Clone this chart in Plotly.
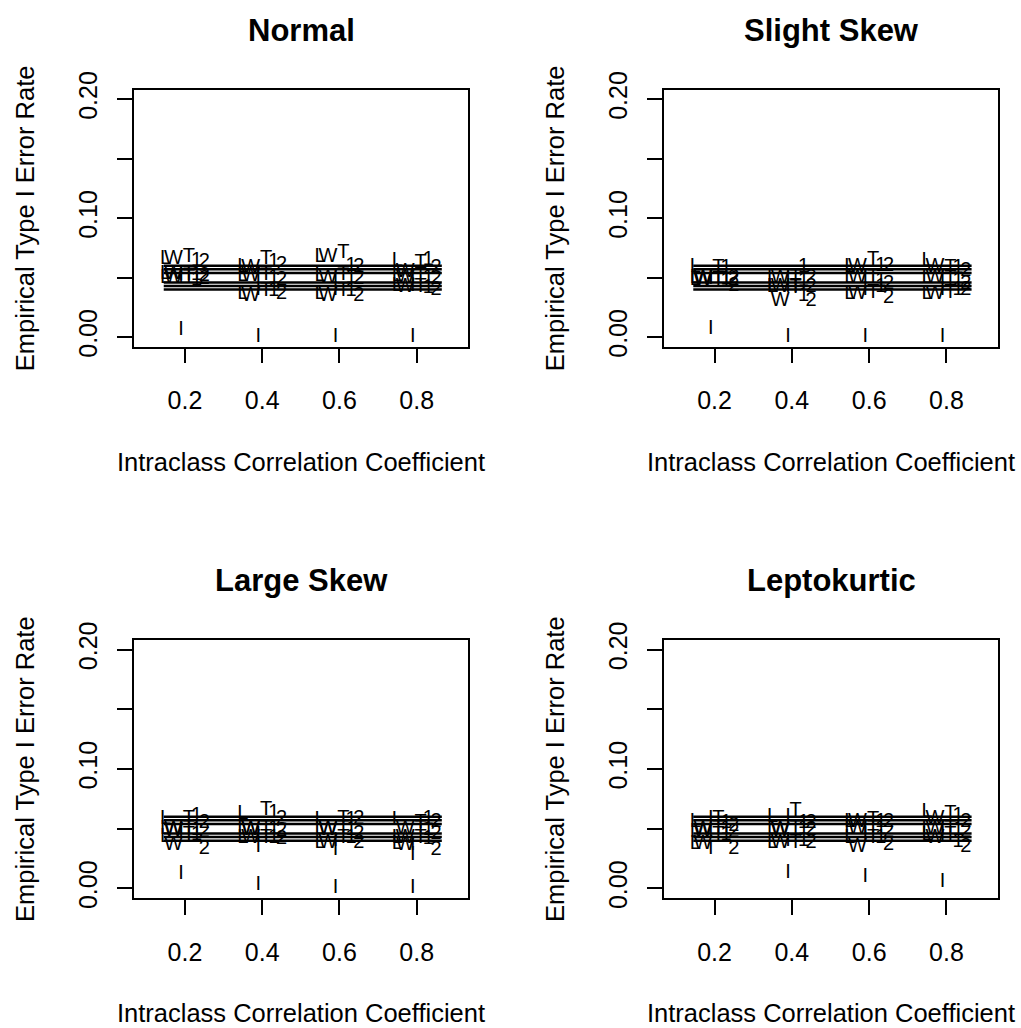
import plotly.graph_objects as go

# ---------------- data ----------------
icc = [0.2, 0.4, 0.6, 0.8]
tests = ["L", "W", "I", "T", "1", "2"]
test_offsets = [-0.05, -0.03, -0.01, 0.01, 0.03, 0.05]
panel_titles = ["Normal", "Slight Skew", "Large Skew", "Leptokurtic"]
ref_lines = [0.040, 0.043, 0.046, 0.054, 0.057, 0.060]
ref_x = [0.145, 0.865]
x_ticks = [0.2, 0.4, 0.6, 0.8]
x_tick_labels = ["0.2", "0.4", "0.6", "0.8"]
y_ticks = [0.0, 0.05, 0.10, 0.15, 0.20]
y_tick_labels = ["0.00", "", "0.10", "", "0.20"]

# empirical type I error rates: one list per ICC level (several conditions each)
normal = {
    "L": [[0.066, 0.053, 0.050], [0.059, 0.051, 0.036], [0.067, 0.051, 0.036], [0.064, 0.051, 0.043]],
    "W": [[0.066, 0.053, 0.050], [0.058, 0.051, 0.035], [0.067, 0.050, 0.035], [0.055, 0.050, 0.042]],
    "I": [[0.006, 0.050, 0.052], [0.000, 0.051, 0.040], [0.000, 0.050, 0.040], [0.000, 0.050, 0.043]],
    "T": [[0.067, 0.052, 0.050], [0.066, 0.052, 0.039], [0.071, 0.052, 0.039], [0.062, 0.051, 0.042]],
    "1": [[0.064, 0.052, 0.048], [0.063, 0.050, 0.039], [0.060, 0.050, 0.039], [0.065, 0.050, 0.041]],
    "2": [[0.063, 0.051, 0.049], [0.061, 0.048, 0.036], [0.059, 0.049, 0.035], [0.058, 0.049, 0.040]],
}
slight_skew = {
    "L": [[0.059, 0.050, 0.048], [0.050, 0.042, 0.042], [0.059, 0.050, 0.036], [0.064, 0.050, 0.036]],
    "W": [[0.050, 0.049, 0.047], [0.050, 0.042, 0.030], [0.059, 0.050, 0.036], [0.059, 0.050, 0.036]],
    "I": [[0.007, 0.050, 0.049], [0.000, 0.050, 0.042], [0.000, 0.050, 0.040], [0.000, 0.049, 0.040]],
    "T": [[0.058, 0.050, 0.048], [0.050, 0.042, 0.041], [0.065, 0.050, 0.037], [0.058, 0.049, 0.037]],
    "1": [[0.058, 0.049, 0.047], [0.059, 0.047, 0.035], [0.060, 0.047, 0.042], [0.058, 0.047, 0.040]],
    "2": [[0.050, 0.048, 0.043], [0.050, 0.042, 0.030], [0.060, 0.045, 0.033], [0.056, 0.045, 0.040]],
}
large_skew = {
    "L": [[0.058, 0.050, 0.043], [0.062, 0.050, 0.042], [0.057, 0.050, 0.038], [0.057, 0.042, 0.037]],
    "W": [[0.050, 0.048, 0.036], [0.050, 0.049, 0.042], [0.050, 0.049, 0.038], [0.050, 0.042, 0.036]],
    "I": [[0.012, 0.050, 0.048], [0.003, 0.045, 0.035], [0.000, 0.040, 0.032], [0.000, 0.036, 0.028]],
    "T": [[0.058, 0.050, 0.045], [0.066, 0.050, 0.042], [0.058, 0.050, 0.042], [0.055, 0.050, 0.042]],
    "1": [[0.061, 0.049, 0.045], [0.063, 0.050, 0.042], [0.057, 0.049, 0.042], [0.058, 0.049, 0.041]],
    "2": [[0.055, 0.047, 0.033], [0.058, 0.048, 0.041], [0.058, 0.046, 0.038], [0.056, 0.046, 0.032]],
}
leptokurtic = {
    "L": [[0.056, 0.047, 0.037], [0.060, 0.050, 0.038], [0.056, 0.050, 0.042], [0.064, 0.050, 0.045]],
    "W": [[0.050, 0.047, 0.037], [0.050, 0.048, 0.038], [0.056, 0.050, 0.035], [0.058, 0.050, 0.042]],
    "I": [[0.058, 0.047, 0.033], [0.013, 0.060, 0.040], [0.010, 0.050, 0.045], [0.005, 0.050, 0.045]],
    "T": [[0.058, 0.050, 0.045], [0.065, 0.050, 0.038], [0.057, 0.050, 0.042], [0.062, 0.050, 0.045]],
    "1": [[0.055, 0.050, 0.045], [0.055, 0.050, 0.040], [0.056, 0.050, 0.042], [0.061, 0.049, 0.039]],
    "2": [[0.052, 0.047, 0.033], [0.055, 0.049, 0.038], [0.056, 0.047, 0.036], [0.056, 0.047, 0.035]],
}
panels = [normal, slight_skew, large_skew, leptokurtic]

# ---------------- layout geometry (pixels) ----------------
W, H = 1021, 1028
col_x = [(134, 467.7), (663.5, 997.5)]
row_y = [(89.7, 346.7), (640.0, 898.0)]
FONT = "Liberation Sans, Arial, Helvetica, sans-serif"

fig = go.Figure()
layout = dict(
    width=W, height=H, autosize=False,
    margin=dict(l=0, r=0, t=0, b=0, pad=0, autoexpand=False),
    paper_bgcolor="white", plot_bgcolor="white", showlegend=False,
    font=dict(family=FONT, color="black", size=25),
)
annotations = []

for p, data in enumerate(panels):
    r, c = divmod(p, 2)
    k = p + 1
    xs = "x" if k == 1 else f"x{k}"
    ys = "y" if k == 1 else f"y{k}"
    xl, xr = col_x[c]
    yt, yb = row_y[r]
    # reference segments
    for yv in ref_lines:
        fig.add_trace(go.Scatter(x=ref_x, y=[yv, yv], mode="lines",
                                 line=dict(color="black", width=2.5),
                                 xaxis=xs, yaxis=ys, hoverinfo="skip"))
    # letters
    for t, off in zip(tests, test_offsets):
        xx, yy = [], []
        for gi, g in enumerate(icc):
            for v in data[t][gi]:
                xx.append(g + off)
                yy.append(v)
        fig.add_trace(go.Scatter(x=xx, y=yy, mode="text", text=[t] * len(xx),
                                 textposition="middle center", cliponaxis=False,
                                 textfont=dict(family=FONT, size=20, color="black"),
                                 xaxis=xs, yaxis=ys, hoverinfo="skip"))
    ax = dict(
        domain=[xl / W, xr / W], range=[0.068, 0.932], anchor=ys,
        tickvals=x_ticks, ticktext=x_tick_labels, ticks="outside", ticklen=15,
        tickwidth=1.5, tickcolor="black", showline=True, mirror=True,
        linecolor="black", linewidth=1.5, showgrid=False, zeroline=False,
        tickfont=dict(family=FONT, size=25, color="black"), ticklabelstandoff=16,
        automargin=False,
    )
    ay = dict(
        domain=[1 - yb / H, 1 - yt / H], range=[-0.008, 0.208], anchor=xs,
        tickvals=y_ticks, ticktext=y_tick_labels, ticks="outside", ticklen=15,
        tickwidth=1.5, tickcolor="black", showline=True, mirror=True,
        linecolor="black", linewidth=1.5, showgrid=False, zeroline=False,
        tickangle=-90, tickfont=dict(family=FONT, size=25, color="black"),
        ticklabelstandoff=10, automargin=False,
    )
    layout["xaxis" if k == 1 else f"xaxis{k}"] = ax
    layout["yaxis" if k == 1 else f"yaxis{k}"] = ay
    cx = (xl + xr) / 2
    cy = (yt + yb) / 2
    off_y = r * 550.5
    off_x = c * 530
    annotations.append(dict(text="<b>" + panel_titles[p] + "</b>", x=(301 + off_x) / W,
                            y=1 - (30 + off_y) / H, xref="paper", yref="paper",
                            showarrow=False, xanchor="center", yanchor="middle",
                            font=dict(family=FONT, size=31, color="black")))
    annotations.append(dict(text="Intraclass Correlation Coefficient", x=cx / W,
                            y=1 - (462 + off_y) / H, xref="paper", yref="paper",
                            showarrow=False, xanchor="center", yanchor="middle",
                            font=dict(family=FONT, size=25.5, color="black")))
    annotations.append(dict(text="Empirical Type I Error Rate", x=(25 + off_x) / W,
                            y=1 - cy / H, xref="paper", yref="paper", textangle=-90,
                            showarrow=False, xanchor="center", yanchor="middle",
                            font=dict(family=FONT, size=25.5, color="black")))

layout["annotations"] = annotations
fig.update_layout(**layout)
fig.write_html("out.html")
